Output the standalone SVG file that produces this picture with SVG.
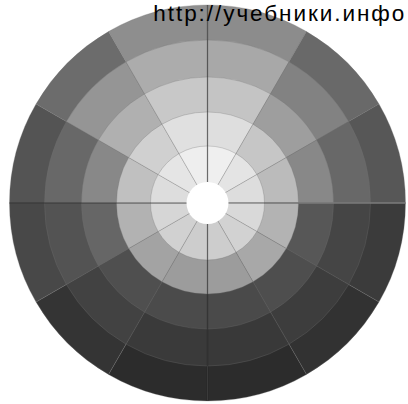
<svg xmlns="http://www.w3.org/2000/svg" xmlns:xlink="http://www.w3.org/1999/xlink" width="408" height="404" viewBox="0 0 408 404">
<style>
.c{stroke:#707070;stroke-width:.5;stroke-opacity:.55}
.t{font-family:"Liberation Sans",Arial,sans-serif;font-size:22.5px;fill:#000}
</style>
<defs>
<path id="w5" d="M0 0L0-198A198 198 0 0 1 99-171.47Z"/>
<path id="w4" d="M0 0L0-163A163 163 0 0 1 81.5-141.16Z"/>
<path id="w3" d="M0 0L0-126A126 126 0 0 1 63-109.12Z"/>
<path id="w2" d="M0 0L0-91A91 91 0 0 1 45.5-78.81Z"/>
<path id="w1" d="M0 0L0-57A57 57 0 0 1 28.5-49.36Z"/>
</defs>
<rect width="408" height="404" fill="#fff"/>
<g id="wheel" transform="translate(207.5 203)">
<g id="ring5">
<use xlink:href="#w5" class="c" fill="#8c8c8c"/>
<use xlink:href="#w5" class="c" fill="#696969" transform="rotate(30)"/>
<use xlink:href="#w5" class="c" fill="#575757" transform="rotate(60)"/>
<use xlink:href="#w5" class="c" fill="#3b3b3b" transform="rotate(90)"/>
<use xlink:href="#w5" class="c" fill="#323232" transform="rotate(120)"/>
<use xlink:href="#w5" class="c" fill="#2c2c2c" transform="rotate(150)"/>
<use xlink:href="#w5" class="c" fill="#2c2c2c" transform="rotate(180)"/>
<use xlink:href="#w5" class="c" fill="#343434" transform="rotate(210)"/>
<use xlink:href="#w5" class="c" fill="#484848" transform="rotate(240)"/>
<use xlink:href="#w5" class="c" fill="#545454" transform="rotate(270)"/>
<use xlink:href="#w5" class="c" fill="#6c6c6c" transform="rotate(300)"/>
<use xlink:href="#w5" class="c" fill="#8e8e8e" transform="rotate(330)"/>
</g>
<g id="ring4">
<use xlink:href="#w4" class="c" fill="#a8a8a8"/>
<use xlink:href="#w4" class="c" fill="#828282" transform="rotate(30)"/>
<use xlink:href="#w4" class="c" fill="#686868" transform="rotate(60)"/>
<use xlink:href="#w4" class="c" fill="#454545" transform="rotate(90)"/>
<use xlink:href="#w4" class="c" fill="#3d3d3d" transform="rotate(120)"/>
<use xlink:href="#w4" class="c" fill="#393939" transform="rotate(150)"/>
<use xlink:href="#w4" class="c" fill="#3a3a3a" transform="rotate(180)"/>
<use xlink:href="#w4" class="c" fill="#424242" transform="rotate(210)"/>
<use xlink:href="#w4" class="c" fill="#535353" transform="rotate(240)"/>
<use xlink:href="#w4" class="c" fill="#686868" transform="rotate(270)"/>
<use xlink:href="#w4" class="c" fill="#959595" transform="rotate(300)"/>
<use xlink:href="#w4" class="c" fill="#acacac" transform="rotate(330)"/>
</g>
<g id="ring3">
<use xlink:href="#w3" class="c" fill="#c4c4c4"/>
<use xlink:href="#w3" class="c" fill="#9e9e9e" transform="rotate(30)"/>
<use xlink:href="#w3" class="c" fill="#888888" transform="rotate(60)"/>
<use xlink:href="#w3" class="c" fill="#575757" transform="rotate(90)"/>
<use xlink:href="#w3" class="c" fill="#4e4e4e" transform="rotate(120)"/>
<use xlink:href="#w3" class="c" fill="#4a4a4a" transform="rotate(150)"/>
<use xlink:href="#w3" class="c" fill="#4b4b4b" transform="rotate(180)"/>
<use xlink:href="#w3" class="c" fill="#4f4f4f" transform="rotate(210)"/>
<use xlink:href="#w3" class="c" fill="#666666" transform="rotate(240)"/>
<use xlink:href="#w3" class="c" fill="#888888" transform="rotate(270)"/>
<use xlink:href="#w3" class="c" fill="#b0b0b0" transform="rotate(300)"/>
<use xlink:href="#w3" class="c" fill="#c8c8c8" transform="rotate(330)"/>
</g>
<g id="ring2">
<use xlink:href="#w2" class="c" fill="#dedede"/>
<use xlink:href="#w2" class="c" fill="#c6c6c6" transform="rotate(30)"/>
<use xlink:href="#w2" class="c" fill="#bbbbbb" transform="rotate(60)"/>
<use xlink:href="#w2" class="c" fill="#b3b3b3" transform="rotate(90)"/>
<use xlink:href="#w2" class="c" fill="#a8a8a8" transform="rotate(120)"/>
<use xlink:href="#w2" class="c" fill="#9c9c9c" transform="rotate(150)"/>
<use xlink:href="#w2" class="c" fill="#9c9c9c" transform="rotate(180)"/>
<use xlink:href="#w2" class="c" fill="#a3a3a3" transform="rotate(210)"/>
<use xlink:href="#w2" class="c" fill="#b2b2b2" transform="rotate(240)"/>
<use xlink:href="#w2" class="c" fill="#c0c0c0" transform="rotate(270)"/>
<use xlink:href="#w2" class="c" fill="#d0d0d0" transform="rotate(300)"/>
<use xlink:href="#w2" class="c" fill="#e0e0e0" transform="rotate(330)"/>
</g>
<g id="ring1">
<use xlink:href="#w1" class="c" fill="#efefef"/>
<use xlink:href="#w1" class="c" fill="#e4e4e4" transform="rotate(30)"/>
<use xlink:href="#w1" class="c" fill="#dddddd" transform="rotate(60)"/>
<use xlink:href="#w1" class="c" fill="#d9d9d9" transform="rotate(90)"/>
<use xlink:href="#w1" class="c" fill="#d2d2d2" transform="rotate(120)"/>
<use xlink:href="#w1" class="c" fill="#cdcdcd" transform="rotate(150)"/>
<use xlink:href="#w1" class="c" fill="#cdcdcd" transform="rotate(180)"/>
<use xlink:href="#w1" class="c" fill="#d1d1d1" transform="rotate(210)"/>
<use xlink:href="#w1" class="c" fill="#d6d6d6" transform="rotate(240)"/>
<use xlink:href="#w1" class="c" fill="#dddddd" transform="rotate(270)"/>
<use xlink:href="#w1" class="c" fill="#e5e5e5" transform="rotate(300)"/>
<use xlink:href="#w1" class="c" fill="#eeeeee" transform="rotate(330)"/>
</g>
<g id="axes" fill="none" stroke-width="1.3">
<path d="M0-198V198" stroke="#000" stroke-opacity=".4"/>
<path d="M-198 0H91" stroke="#000" stroke-opacity=".3"/>
<path d="M91 0H198" stroke="#7a7a7a"/>
</g>
<circle id="hub" r="21" fill="#fff"/>
</g>
<text class="t" x="153.3" y="20.5" textLength="251" lengthAdjust="spacing">http://учебники.инфо</text>
</svg>
